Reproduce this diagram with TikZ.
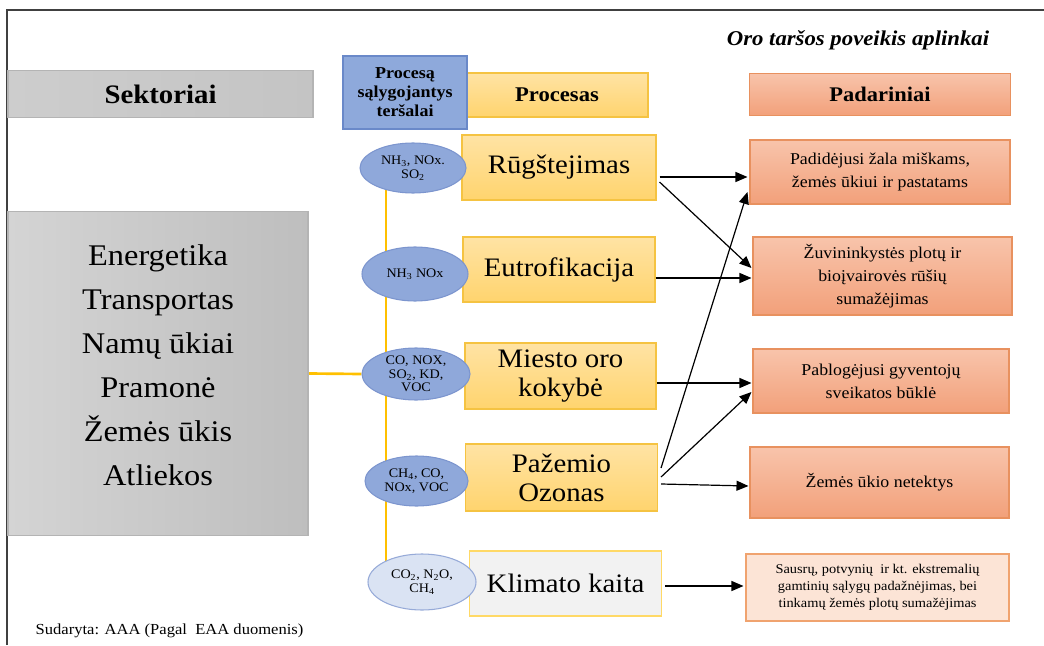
\documentclass[tikz,border=0pt]{standalone}
\usepackage{fontspec}
\setmainfont{Liberation Serif}[FakeStretch=1.08]
\usetikzlibrary{shapes.geometric,arrows.meta,calc}
\pgfdeclarelayer{bg}
\pgfsetlayers{bg,main}
\definecolor{framecol}{HTML}{404040}
\definecolor{grayA}{HTML}{D4D4D4}
\definecolor{grayB}{HTML}{BEBEBE}
\definecolor{sekA}{HTML}{CDCDCD}
\definecolor{sekB}{HTML}{C4C4C4}
\definecolor{grayline}{HTML}{B4B4B4}
\definecolor{bluefill}{HTML}{8EA9DB}
\definecolor{blueline}{HTML}{6A89C9}
\definecolor{ellfill}{HTML}{8FA8DA}
\definecolor{ellline}{HTML}{7C95CE}
\definecolor{lightblue}{HTML}{DAE3F3}
\definecolor{yelA}{HTML}{FFE3A4}
\definecolor{yelB}{HTML}{FFD46E}
\definecolor{yelline}{HTML}{F5C342}
\definecolor{yelconn}{HTML}{FFC000}
\definecolor{salA}{HTML}{F8C4AB}
\definecolor{salB}{HTML}{F2A07A}
\definecolor{salline}{HTML}{E8915F}
\definecolor{peach}{HTML}{FCE4D6}
\definecolor{peachline}{HTML}{F0A36F}
\definecolor{klimfill}{HTML}{F2F2F2}
\definecolor{klimline}{HTML}{FFD966}
\begin{document}
\begin{tikzpicture}[x=0.75pt,y=-0.75pt,
  box/.style={rectangle, inner sep=0pt, align=center, line width=0.8pt},
  graybox/.style={box, draw=grayline, left color=grayA, right color=grayB},
  bluebox/.style={box, draw=blueline, fill=bluefill},
  yelbox/.style={box, draw=yelline, top color=yelA, bottom color=yelB},
  salbox/.style={box, draw=salline, top color=salA, bottom color=salB},
  ell/.style={ellipse, inner sep=-4pt, align=center, draw=ellline, fill=ellfill, line width=0.8pt,
     font=\fontsize{9.8}{10.2}\selectfont},
  proc/.style={font=\fontsize{20}{21.75}\selectfont},
  eff/.style={font=\fontsize{12.4}{17.25}\selectfont},
  arr/.style={draw=black, line width=0.9pt, -{Triangle[length=9pt,width=7.5pt]}},
  conn/.style={draw=yelconn, line width=2pt}
]
\useasboundingbox (0,0) rectangle (1044,645);
\draw[framecol, line width=1.1pt] (7,645) -- (7,10) -- (1044,10);

% titles
\node[font=\bfseries\itshape\fontsize{15.8}{18}\selectfont] (title) at (858,40) {Oro taršos poveikis aplinkai};

% left column
\node[box, draw=grayline, left color=sekA, right color=sekB, minimum width=228.75pt, minimum height=35.25pt,
  font=\bfseries\fontsize{20}{24}\selectfont] (sekt) at (160.5,94) {Sektoriai};
\node[graybox, minimum width=225pt, minimum height=243pt] (sect) at (158,373.5) {};
\node[align=center, font=\fontsize{22.5}{33}\selectfont] (secttxt) at (158,365) {Energetika\\Transportas\\Namų ūkiai\\Pramonė\\Žemės ūkis\\Atliekos};

% headers
\node[yelbox, minimum width=136.5pt, minimum height=33pt, font=\bfseries\fontsize{15.7}{18}\selectfont] (hproc) at (557,95) {Procesas};
\node[bluebox, minimum width=93pt, minimum height=54.75pt, font=\bfseries\fontsize{12.5}{14.25}\selectfont] (hpol) at (405,92.5) {Procesą\\sąlygojantys\\teršalai};
\node[salbox, minimum width=195.75pt, minimum height=32pt, font=\bfseries\fontsize{15.6}{18}\selectfont] (hpad) at (880,94.5) {Padariniai};

% process boxes
\node[yelbox, proc, minimum width=145.5pt, minimum height=48.75pt] (p1) at (559,167.5) {Rūgštejimas};
\node[yelbox, proc, minimum width=144pt, minimum height=48.75pt] (p2) at (559,269.5) {Eutrofikacija};
\node[yelbox, proc, minimum width=143.25pt, minimum height=49.5pt] (p3) at (560.5,376) {Miesto oro\\kokybė};
\node[yelbox, proc, minimum width=144pt, minimum height=50.25pt] (p4) at (561.5,477.5) {Pažemio\\Ozonas};
\node[box, proc, draw=klimline, fill=klimfill, minimum width=144pt, minimum height=48.75pt] (p5) at (565.5,583.5) {Klimato kaita};

% pollutant ellipses
\node[ell, minimum width=79.5pt, minimum height=37.5pt] (e1) at (413,168) {NH\textsubscript{3}, NOx.\\SO\textsubscript{2}};
\node[ell, minimum width=79.5pt, minimum height=40.5pt] (e2) at (415,274) {NH\textsubscript{3} NOx};
\node[ell, minimum width=81pt, minimum height=39pt] (e3) at (416,374) {CO, NOX,\\SO\textsubscript{2}, KD,\\VOC};
\node[ell, minimum width=77.25pt, minimum height=37.5pt] (e4) at (416.5,481) {CH\textsubscript{4}, CO,\\NOx, VOC};
\node[ell, draw=ellline!80!white, fill=lightblue, minimum width=81pt, minimum height=42pt] (e5) at (422,582) {CO\textsubscript{2}, N\textsubscript{2}O,\\CH\textsubscript{4}};

% effect boxes
\node[salbox, eff, minimum width=195pt, minimum height=48pt] (r1) at (880,172) {Padidėjusi žala miškams,\\žemės ūkiui ir pastatams};
\node[salbox, eff, minimum width=194.25pt, minimum height=58.5pt] (r2) at (882.5,276) {Žuvininkystės plotų ir\\bioįvairovės rūšių\\sumažėjimas};
\node[salbox, eff, minimum width=192pt, minimum height=48pt] (r3) at (881,381) {Pablogėjusi gyventojų\\sveikatos būklė};
\node[salbox, eff, minimum width=194.25pt, minimum height=53.25pt] (r4) at (879.5,482.5) {Žemės ūkio netektys};
\node[box, draw=peachline, fill=peach, minimum width=197.25pt, minimum height=50.25pt,
  font=\fontsize{10}{12.75}\selectfont] (r5) at (877.5,587.5) {Sausrų, potvynių\ \ ir kt. ekstremalių\\gamtinių sąlygų padažnėjimas, bei\\tinkamų žemės plotų sumažėjimas};

% source
\node[anchor=west, font=\fontsize{11.5}{13}\selectfont] (src) at (31,631) {Sudaryta: AAA (Pagal\ \ EAA duomenis)};

% yellow connectors (behind)
\begin{pgfonlayer}{bg}
\coordinate (vtop) at (386,170);
\coordinate (vbot) at (386,580);
\draw[conn] (vtop) -- (vbot);
\draw[conn] (sect.east) -- (e3.west);
\end{pgfonlayer}

% arrows
\draw[arr] ($(p1.east)+(3,9.5)$) -- ($(r1.west)+(-2,5)$);
\draw[arr] ($(p1.east)+(3,14.5)$) -- ($(r2.west)+(-1,-8)$);
\draw[arr] ($(p2.east)+(0,8.5)$) -- ($(r2.west)+(-1,2)$);
\draw[arr] ($(p3.east)+(0,7)$) -- ($(r3.west)+(-1,2)$);
\draw[arr] ($(p4.east)+(3,-9.5)$) -- ($(r1.west)+(-2,20)$);
\draw[arr] ($(p4.east)+(3,-0.5)$) -- ($(r3.west)+(-1,11)$);
\draw[arr] ($(p4.east)+(3,6.5)$) -- ($(r4.west)+(-1,3.5)$);
\draw[arr] ($(p5.east)+(3,2.5)$) -- ($(r5.west)+(-2,-1.5)$);
\end{tikzpicture}
\end{document}
